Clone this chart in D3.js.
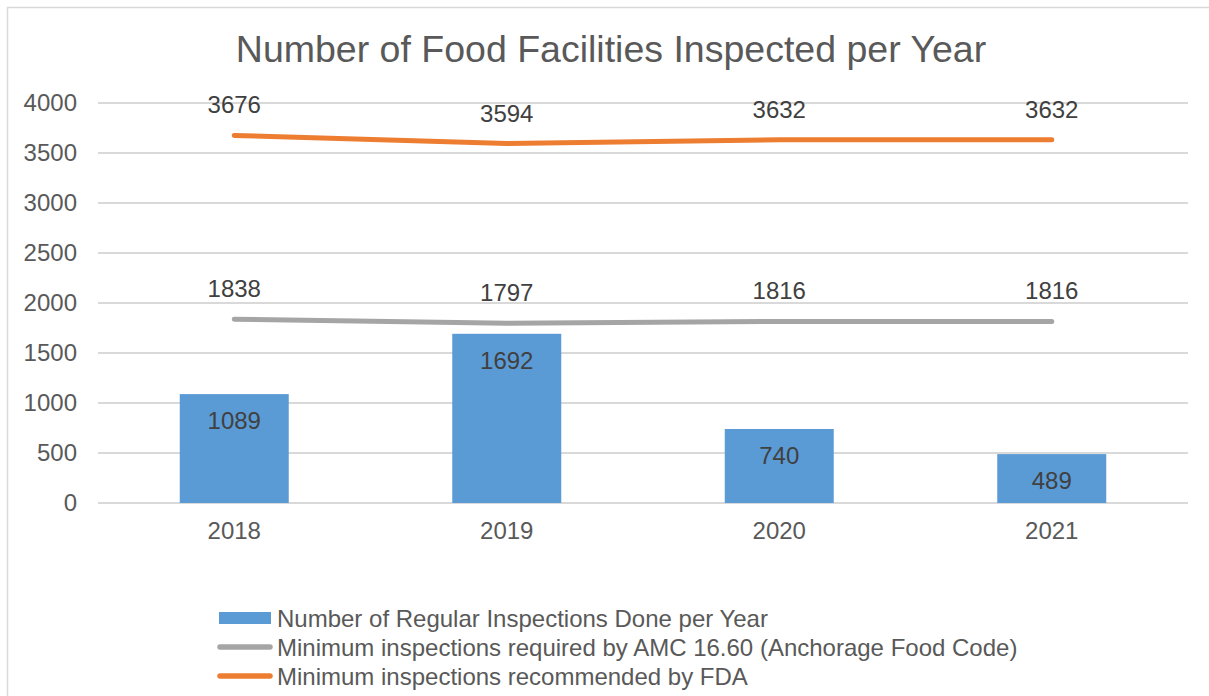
<!DOCTYPE html>
<html>
<head>
<meta charset="utf-8">
<script src="https://cdn.jsdelivr.net/npm/d3@7"></script>
<style>
  body { margin: 0; background: #fff; }
  svg { font-family: Arial, "Liberation Sans", sans-serif; }
</style>
</head>
<body>
<div id="chart"></div>
<script>
// data
var years = ["2018", "2019", "2020", "2021"];
var regular = [1089, 1692, 740, 489];
var amcMin = [1838, 1797, 1816, 1816];
var fdaMin = [3676, 3594, 3632, 3632];
var yTicks = [0, 500, 1000, 1500, 2000, 2500, 3000, 3500, 4000];
var seriesNames = [
    "Number of Regular Inspections Done per Year",
    "Minimum inspections required by AMC 16.60 (Anchorage Food Code)",
    "Minimum inspections recommended by FDA"
];

var W = 1209, H = 696;
var margin = { top: 103, right: 21, bottom: 193, left: 98 };
var w = W - margin.left - margin.right;
var h = H - margin.top - margin.bottom;
var fs = 24;

var svg = d3.select("#chart").append("svg")
    .attr("width", W)
    .attr("height", H);

// chart border
svg.append("rect")
    .attr("x", 7.5).attr("y", 7.5)
    .attr("width", W).attr("height", H)
    .attr("fill", "#fff")
    .attr("stroke", "#d9d9d9")
    .attr("stroke-width", 1.5);

svg.append("text")
    .attr("x", 611).attr("y", 62)
    .attr("text-anchor", "middle")
    .attr("font-size", 37.5)
    .attr("fill", "#595959")
    .text("Number of Food Facilities Inspected per Year");

var g = svg.append("g")
    .attr("transform", "translate(" + margin.left + "," + margin.top + ")");

var x = d3.scaleBand().domain(years).range([0, w]);
var y = d3.scaleLinear().domain([0, 4000]).range([h, 0]);

// gridlines
g.selectAll(".grid")
    .data(yTicks)
    .enter().append("line")
    .attr("x1", 0).attr("x2", w)
    .attr("y1", d => y(d)).attr("y2", d => y(d))
    .attr("stroke", "#d9d9d9")
    .attr("stroke-width", 2);

// y axis
var yAxis = g.append("g")
    .call(d3.axisLeft(y).tickValues(yTicks).tickFormat(d3.format("d")).tickSize(0).tickPadding(21));
yAxis.select(".domain").remove();
yAxis.selectAll("text")
    .attr("font-size", fs)
    .attr("fill", "#595959")
    .attr("font-family", "Arial, 'Liberation Sans', sans-serif");

// x axis
var xAxis = g.append("g")
    .attr("transform", "translate(0," + h + ")")
    .call(d3.axisBottom(x).tickSize(0).tickPadding(19));
xAxis.select(".domain").remove();
xAxis.selectAll("text")
    .attr("font-size", fs)
    .attr("fill", "#595959")
    .attr("font-family", "Arial, 'Liberation Sans', sans-serif");

// bars
var barW = x.bandwidth() * 0.4;
g.selectAll(".bar")
    .data(regular)
    .enter().append("rect")
    .attr("x", (d, i) => x(years[i]) + x.bandwidth() / 2 - barW / 2)
    .attr("y", d => y(d))
    .attr("width", barW)
    .attr("height", d => h - y(d))
    .attr("fill", "#5b9bd5");

g.selectAll(".barlabel")
    .data(regular)
    .enter().append("text")
    .attr("x", (d, i) => x(years[i]) + x.bandwidth() / 2)
    .attr("y", d => y(d) + 35)
    .attr("text-anchor", "middle")
    .attr("font-size", fs)
    .attr("fill", "#404040")
    .text(d => d);

// lines
var line = d3.line()
    .x((d, i) => x(years[i]) + x.bandwidth() / 2)
    .y(d => y(d));

[[amcMin, "#a5a5a5"], [fdaMin, "#ed7d31"]].forEach(function (s) {
    g.append("path")
        .datum(s[0])
        .attr("d", line)
        .attr("fill", "none")
        .attr("stroke", s[1])
        .attr("stroke-width", 5)
        .attr("stroke-linecap", "round")
        .attr("stroke-linejoin", "round");

    g.selectAll(null)
        .data(s[0])
        .enter().append("text")
        .attr("x", (d, i) => x(years[i]) + x.bandwidth() / 2)
        .attr("y", d => y(d) - 22)
        .attr("text-anchor", "middle")
        .attr("font-size", fs)
        .attr("fill", "#404040")
        .text(d => d);
});

// legend
var legend = svg.append("g");
var ly = [618, 647, 676];

legend.append("rect")
    .attr("x", 219).attr("y", ly[0] - 6)
    .attr("width", 52).attr("height", 12)
    .attr("fill", "#5b9bd5");
legend.append("line")
    .attr("x1", 220).attr("x2", 270)
    .attr("y1", ly[1]).attr("y2", ly[1])
    .attr("stroke", "#a5a5a5").attr("stroke-width", 5.5).attr("stroke-linecap", "round");
legend.append("line")
    .attr("x1", 220).attr("x2", 270)
    .attr("y1", ly[2]).attr("y2", ly[2])
    .attr("stroke", "#ed7d31").attr("stroke-width", 5.5).attr("stroke-linecap", "round");

legend.selectAll(".ltext")
    .data(seriesNames)
    .enter().append("text")
    .attr("x", 277)
    .attr("y", (d, i) => ly[i] + 9)
    .attr("font-size", fs)
    .attr("fill", "#595959")
    .text(d => d);
</script>
</body>
</html>
